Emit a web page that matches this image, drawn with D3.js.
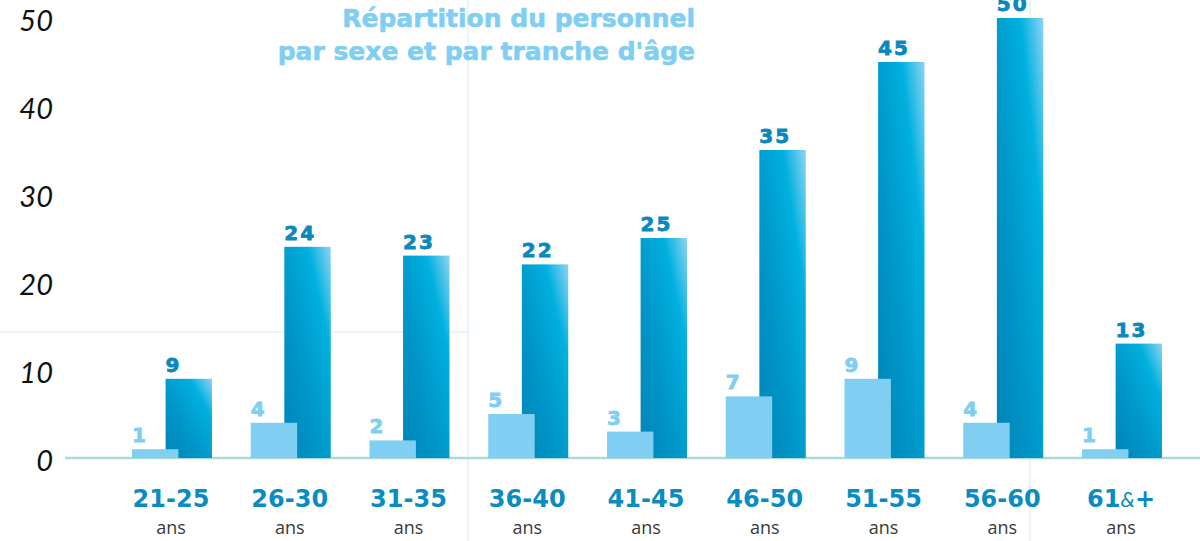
<!DOCTYPE html>
<html>
<head>
<meta charset="utf-8">
<script src="https://cdn.jsdelivr.net/npm/d3@7"></script>
<style>
  body { margin: 0; background: #fff; }
  svg { display: block; }
</style>
</head>
<body>
<div id="chart"></div>
<script>
var width = 1200,
    height = 541;

// data
var tranches = ["21-25", "26-30", "31-35", "36-40", "41-45", "46-50", "51-55", "56-60", "61&+"];
var femmes = [1, 4, 2, 5, 3, 7, 9, 4, 1];
var hommes = [9, 24, 23, 22, 25, 35, 45, 50, 13];
var yTicks = [0, 10, 20, 30, 40, 50];
var titre = ["Répartition du personnel", "par sexe et par tranche d'âge"];

var svg = d3.select("#chart").append("svg")
        .attr("width", width)
        .attr("height", height);

var defs = svg.append("defs");
var grad = defs.append("linearGradient")
        .attr("id", "gradH")
        .attr("x1", 1).attr("y1", 0)
        .attr("x2", 0).attr("y2", 1);
grad.append("stop").attr("offset", "0").attr("stop-color", "#8dd4f4");
grad.append("stop").attr("offset", "0.25").attr("stop-color", "#00b0de");
grad.append("stop").attr("offset", "0.6").attr("stop-color", "#0096c8");
grad.append("stop").attr("offset", "1").attr("stop-color", "#0084b7");

var x = d3.scaleBand()
        .domain(tranches)
        .range([112.6, 1181.4])
        .paddingInner(0.3263)
        .paddingOuter(0.1632);

var y = d3.scaleLinear()
        .domain([0, 50])
        .range([458, 18]);

var bw = x.bandwidth();
var lightW = bw * 0.58,
    darkOff = bw * 0.42,
    darkW = bw * 0.58;

// decorative guide lines
var guides = svg.append("g").attr("id", "guides")
        .attr("stroke", "#e3f1fb")
        .attr("stroke-width", 1.5);
guides.append("line").attr("x1", 468).attr("x2", 468).attr("y1", 0).attr("y2", height);
guides.append("line").attr("x1", 1030).attr("x2", 1030).attr("y1", 0).attr("y2", height);
guides.append("line").attr("x1", 0).attr("x2", 468).attr("y1", 332).attr("y2", 332);

// title
svg.append("g").attr("id", "title")
        .selectAll("text")
        .data(titre)
        .enter().append("text")
        .attr("x", 695)
        .attr("y", function (d, i) {
            return 27 + i * 33;
        })
        .attr("text-anchor", "end")
        .attr("font-family", "DejaVu Sans")
        .attr("font-weight", "bold")
        .attr("font-size", 25)
        .attr("fill", "#80cff3")
        .attr("stroke", "#80cff3")
        .attr("stroke-width", 0.6)
        .text(function (d) { return d; });

// y axis
var yAxis = svg.append("g")
        .attr("transform", "translate(53,0)")
        .call(d3.axisLeft(y).tickValues(yTicks).tickSize(0).tickPadding(0));
yAxis.select(".domain").remove();
yAxis.selectAll("text")
        .attr("dy", null)
        .attr("y", 12)
        .attr("font-family", "Lato")
        .attr("font-style", "italic")
        .attr("font-size", 29)
        .attr("fill", "#111");

// baseline
svg.append("line")
        .attr("x1", 65)
        .attr("x2", width)
        .attr("y1", y(0))
        .attr("y2", y(0))
        .attr("stroke", "#a9dcd6")
        .attr("stroke-width", 2.5);

var bars = svg.append("g").attr("id", "bars");

bars.selectAll(".homme")
        .data(hommes)
        .enter().append("rect")
        .attr("class", "homme")
        .attr("x", function (d, i) { return x(tranches[i]) + darkOff; })
        .attr("y", function (d) { return y(d); })
        .attr("width", darkW)
        .attr("height", function (d) { return y(0) - y(d); })
        .attr("fill", "url(#gradH)");

bars.selectAll(".femme")
        .data(femmes)
        .enter().append("rect")
        .attr("class", "femme")
        .attr("x", function (d, i) { return x(tranches[i]); })
        .attr("y", function (d) { return y(d); })
        .attr("width", lightW)
        .attr("height", function (d) { return y(0) - y(d); })
        .attr("fill", "#80cff3");

var labels = svg.append("g").attr("id", "labels")
        .attr("font-family", "DejaVu Sans")
        .attr("font-weight", "bold")
        .attr("font-size", 20)
        .attr("letter-spacing", 2)
        .attr("stroke-width", 0.8);

labels.selectAll(".lh")
        .data(hommes)
        .enter().append("text")
        .attr("x", function (d, i) { return x(tranches[i]) + darkOff; })
        .attr("y", function (d) { return y(d) - 7; })
        .attr("fill", "#0a88bd")
        .attr("stroke", "#0a88bd")
        .text(function (d) { return d; });

labels.selectAll(".lf")
        .data(femmes)
        .enter().append("text")
        .attr("x", function (d, i) { return x(tranches[i]); })
        .attr("y", function (d) { return y(d) - 7; })
        .attr("fill", "#80cff3")
        .attr("stroke", "#80cff3")
        .text(function (d) { return d; });

// category labels
var cats = svg.append("g").attr("id", "cats");
var catText = cats.selectAll(".cat")
        .data(tranches)
        .enter().append("text")
        .attr("x", function (d) { return x(d) + bw / 2 - 1; })
        .attr("y", 507)
        .attr("text-anchor", "middle")
        .attr("font-family", "DejaVu Sans")
        .attr("font-weight", "bold")
        .attr("font-size", 24)
        .attr("fill", "#0a8cc0");
catText.each(function (d) {
    var t = d3.select(this);
    if (d.indexOf("&") > 0) {
        var parts = d.split("&");
        t.append("tspan").text(parts[0]);
        t.append("tspan").attr("font-weight", "normal").attr("font-family", "Lato").attr("font-style", "italic").attr("font-size", 22).text("&");
        t.append("tspan").text(parts[1]);
    } else {
        t.text(d);
    }
});
cats.selectAll(".ans")
        .data(tranches)
        .enter().append("text")
        .attr("x", function (d) { return x(d) + bw / 2 - 1; })
        .attr("y", 534)
        .attr("text-anchor", "middle")
        .attr("font-family", "Open Sans")
        .attr("font-size", 18)
        .attr("fill", "#3a3a3a")
        .text("ans");
</script>
</body>
</html>
